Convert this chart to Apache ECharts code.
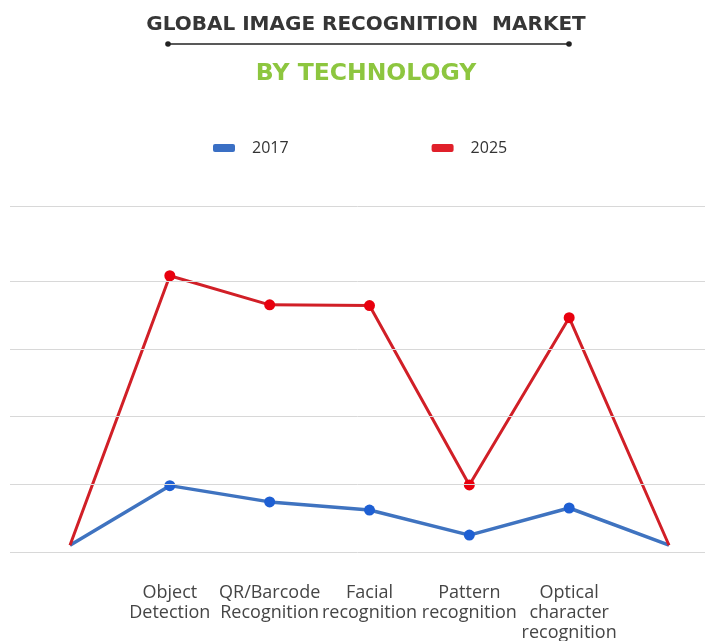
<!DOCTYPE html>
<html>
<head>
<meta charset="utf-8">
<script src="https://cdn.jsdelivr.net/npm/echarts@6/dist/echarts.min.js"></script>
<style>
html,body{margin:0;padding:0;background:#fff;}
#chart{width:710px;height:641px;}
</style>
</head>
<body>
<div id="chart"></div>
<script>
// ---- data ----
const titleText = 'GLOBAL IMAGE RECOGNITION  MARKET';
const subtitleText = 'BY TECHNOLOGY';
const categories = ['', 'Object\nDetection', 'QR/Barcode\nRecognition', 'Facial\nrecognition', 'Pattern\nrecognition', 'Optical\ncharacter\nrecognition', ''];
const seriesNames = ['2017', '2025'];
const values2017 = [0.1, 0.98, 0.74, 0.62, 0.25, 0.65, 0.1];
const values2025 = [0.1, 4.08, 3.65, 3.64, 0.99, 3.46, 0.1];
const gridLevels = [0, 1, 2, 3, 4, 5.11];
const yMax = 5.11;

const chart = echarts.init(document.getElementById('chart'), null, {renderer: 'canvas'});

function pts(vals, color) {
  return vals.map((v, i) => {
    const edge = (i === 0 || i === vals.length - 1);
    return {value: v, symbolSize: edge ? 0 : 11, itemStyle: {color: color}};
  });
}

const option = {
  backgroundColor: '#ffffff',
  animation: false,
  textStyle: {fontFamily: 'Open Sans'},
  graphic: [
    {type: 'text', x: 366, y: 25, style: {text: titleText, font: 'bold 20px "DejaVu Sans"', fill: '#363636', align: 'center', verticalAlign: 'middle'}},
    {type: 'line', shape: {x1: 168, y1: 44, x2: 569, y2: 44}, style: {stroke: '#222', lineWidth: 1.5}},
    {type: 'circle', shape: {cx: 168, cy: 44, r: 2.8}, style: {fill: '#222'}},
    {type: 'circle', shape: {cx: 569, cy: 44, r: 2.8}, style: {fill: '#222'}},
    {type: 'text', x: 366, y: 74, style: {text: subtitleText, font: 'bold 23.5px "DejaVu Sans"', fill: '#8dc63f', align: 'center', verticalAlign: 'middle'}}
  ],
  legend: {
    data: seriesNames,
    left: 208,
    top: 135,
    icon: 'roundRect',
    itemWidth: 22,
    itemHeight: 8,
    itemGap: 143,
    textStyle: {fontSize: 16, color: '#333', fontFamily: 'Open Sans', padding: [0, 0, 0, 12]}
  },
  grid: [
    {left: 10, right: 5, top: 206, bottom: 89, outerBoundsMode: 'none', containLabel: false},
    {left: 70, right: 41, top: 206, bottom: 89, outerBoundsMode: 'none', containLabel: false}
  ],
  xAxis: [
    {gridIndex: 0, type: 'value', min: 0, max: 1, show: false},
    {
      gridIndex: 1, type: 'category', data: categories, boundaryGap: false,
      axisLine: {show: false}, axisTick: {show: false}, splitLine: {show: false},
      axisLabel: {interval: 0, margin: 31, fontSize: 18, lineHeight: 20, color: '#454545', fontFamily: 'Open Sans'}
    }
  ],
  yAxis: [
    {gridIndex: 0, type: 'value', min: 0, max: yMax, show: false},
    {gridIndex: 1, type: 'value', min: 0, max: yMax, show: false}
  ],
  series: [
    {
      name: 'grid', type: 'line', xAxisIndex: 0, yAxisIndex: 0, data: [], silent: true,
      markLine: {
        silent: true, symbol: 'none', label: {show: false},
        lineStyle: {color: '#d8d8d8', width: 1, type: 'solid'},
        data: gridLevels.map(v => ({yAxis: v}))
      }
    },
    {
      name: seriesNames[0], type: 'line', xAxisIndex: 1, yAxisIndex: 1,
      data: pts(values2017, '#1e5fd3'), symbol: 'circle',
      lineStyle: {color: '#3f73c0', width: 3.5},
      itemStyle: {color: '#3a6fc4'}, z: 3
    },
    {
      name: seriesNames[1], type: 'line', xAxisIndex: 1, yAxisIndex: 1,
      data: pts(values2025, '#e8000e'), symbol: 'circle',
      lineStyle: {color: '#d11f27', width: 3},
      itemStyle: {color: '#e0202a'}, z: 4
    }
  ]
};
chart.setOption(option);
</script>
</body>
</html>
